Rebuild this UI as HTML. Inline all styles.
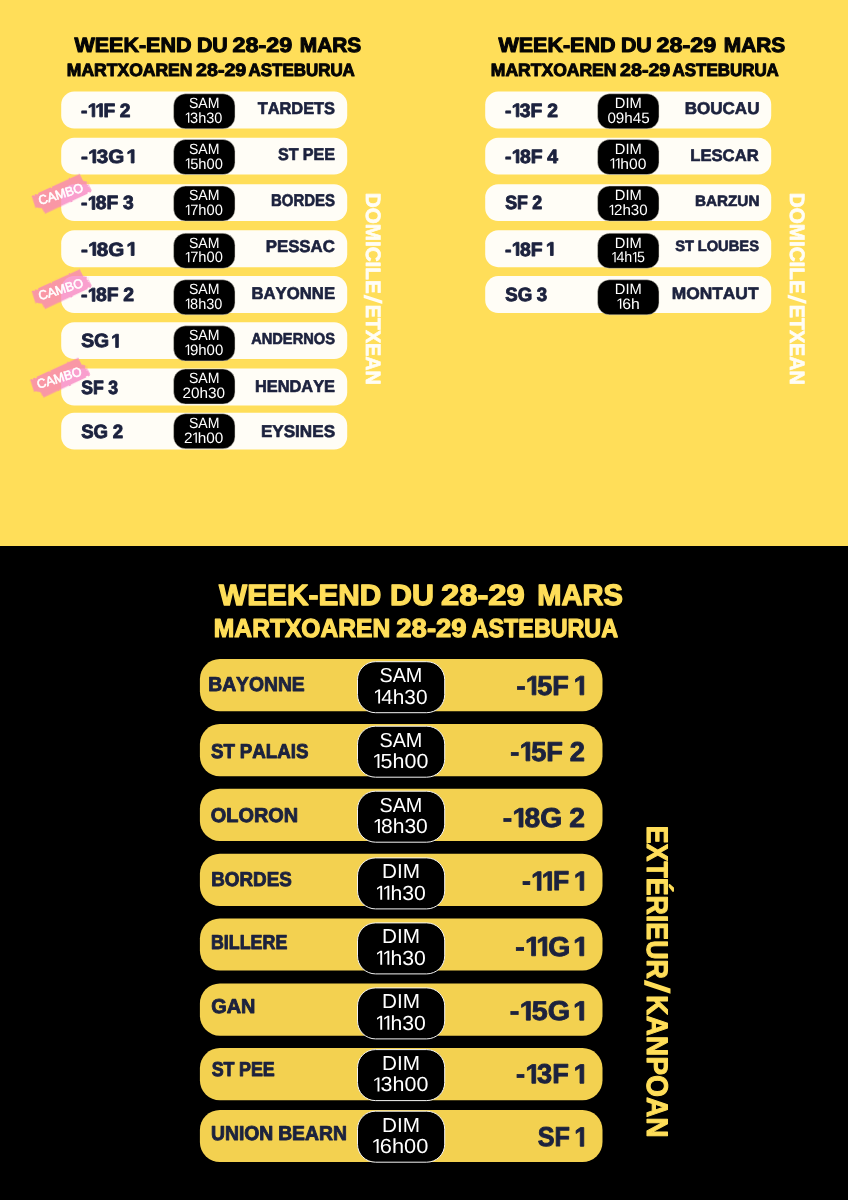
<!DOCTYPE html>
<html><head><meta charset="utf-8"><title>Week-end du 28-29 mars</title>
<style>
html,body{margin:0;padding:0;background:#000;}
svg{display:block;will-change:transform;font-family:"Liberation Sans",sans-serif;}
text{white-space:pre;font-kerning:none;text-rendering:geometricPrecision;}
</style></head><body>
<svg width="848" height="1200" viewBox="0 0 848 1200">
<defs><filter id="rough" x="-10%" y="-20%" width="120%" height="140%"><feTurbulence type="fractalNoise" baseFrequency="0.35" numOctaves="2" seed="3" result="n"/><feDisplacementMap in="SourceGraphic" in2="n" scale="2.6" xChannelSelector="R" yChannelSelector="G"/></filter></defs>
<rect x="0.00" y="0.00" width="848.00" height="546.00" rx="0" fill="#FFDE59"/>
<rect x="0.00" y="546.00" width="848.00" height="654.00" rx="0" fill="#000"/>
<g transform="translate(74.43 52.25) scale(1.0423 1)" font-size="20.64" font-weight="700" fill="#050505" stroke="#050505" stroke-width="1.08" stroke-linejoin="round"><text x="0.00">WEEK-END</text></g>
<g transform="translate(196.92 52.25) scale(1.0342 1)" font-size="20.64" font-weight="700" fill="#050505" stroke="#050505" stroke-width="1.08" stroke-linejoin="round"><text x="0.00">DU</text></g>
<g transform="translate(232.44 52.25) scale(1.1344 1)" font-size="20.64" font-weight="700" fill="#050505" stroke="#050505" stroke-width="1.03" stroke-linejoin="round"><text x="0.00">28-29</text></g>
<g transform="translate(299.75 52.25) scale(1.0122 1)" font-size="20.64" font-weight="700" fill="#050505" stroke="#050505" stroke-width="1.09" stroke-linejoin="round"><text x="0.00">MARS</text></g>
<g transform="translate(66.83 75.90) scale(0.9815 1)" font-size="17.88" font-weight="700" fill="#050505" stroke="#050505" stroke-width="1.01" stroke-linejoin="round"><text x="0.00">MARTXOAREN</text></g>
<g transform="translate(196.02 75.90) scale(1.1003 1)" font-size="17.88" font-weight="700" fill="#050505" stroke="#050505" stroke-width="0.95" stroke-linejoin="round"><text x="0.00">28-29</text></g>
<g transform="translate(248.58 75.90) scale(0.9477 1)" font-size="17.88" font-weight="700" fill="#050505" stroke="#050505" stroke-width="1.03" stroke-linejoin="round"><text x="0.00">ASTEBURUA</text></g>
<rect x="61.20" y="91.60" width="286.00" height="36.90" rx="13" fill="#FFFDF6"/>
<rect x="61.20" y="137.70" width="286.00" height="36.90" rx="13" fill="#FFFDF6"/>
<rect x="61.20" y="184.20" width="286.00" height="36.90" rx="13" fill="#FFFDF6"/>
<rect x="61.20" y="230.25" width="286.00" height="36.90" rx="13" fill="#FFFDF6"/>
<rect x="61.20" y="276.10" width="286.00" height="36.90" rx="13" fill="#FFFDF6"/>
<rect x="61.20" y="322.20" width="286.00" height="36.90" rx="13" fill="#FFFDF6"/>
<rect x="61.20" y="368.60" width="286.00" height="36.90" rx="13" fill="#FFFDF6"/>
<rect x="61.20" y="412.70" width="286.00" height="36.90" rx="13" fill="#FFFDF6"/>
<rect x="173.60" y="93.75" width="61.40" height="35.10" rx="12" fill="#000" stroke="#d8d4c8" stroke-width="0.5"/>
<g transform="translate(81.00 116.85) scale(0.9993 1)" font-size="19.19" font-weight="700" fill="#1C223E" stroke="#1C223E" stroke-width="0.90" stroke-linejoin="round"><text x="0.00">-</text><path d="M11.17 0.00 11.17 -10.96 8.00 -8.98 8.00 -11.05 11.31 -13.20 13.80 -13.20 13.80 0.00Z"/><path d="M18.79 0.00 18.79 -10.96 15.63 -8.98 15.63 -11.05 18.93 -13.20 21.42 -13.20 21.42 0.00Z"/><text x="22.41">F</text><text x="38.88">2</text></g>
<g transform="translate(257.64 114.02) scale(0.9683 1)" font-size="16.93" font-weight="700" fill="#1C223E" stroke="#1C223E" stroke-width="0.66" stroke-linejoin="round"><text x="0.00">TARDETS</text></g>
<g transform="translate(188.96 108.05) scale(0.9492 1)" font-size="14.83" font-weight="400" fill="#fff"><text x="0.00">SAM</text></g>
<g transform="translate(185.23 122.85) scale(0.9685 1)" font-size="14.97" font-weight="400" fill="#fff"><path d="M2.91 0.00 2.91 -9.04 0.58 -7.38 0.58 -8.63 3.02 -10.30 4.23 -10.30 4.23 0.00Z"/><text x="5.04">3h30</text></g>
<rect x="173.60" y="139.50" width="61.40" height="35.10" rx="12" fill="#000" stroke="#d8d4c8" stroke-width="0.5"/>
<g transform="translate(80.95 162.95) scale(1.0735 1)" font-size="19.19" font-weight="700" fill="#1C223E" stroke="#1C223E" stroke-width="0.87" stroke-linejoin="round"><text x="0.00">-</text><path d="M11.17 0.00 11.17 -10.96 8.00 -8.98 8.00 -11.05 11.31 -13.20 13.80 -13.20 13.80 0.00Z"/><text x="14.78">3G</text><path d="M46.84 0.00 46.84 -10.96 43.67 -8.98 43.67 -11.05 46.98 -13.20 49.47 -13.20 49.47 0.00Z"/></g>
<g transform="translate(278.06 160.08) scale(0.9544 1)" font-size="16.93" font-weight="700" fill="#1C223E" stroke="#1C223E" stroke-width="0.67" stroke-linejoin="round"><text x="0.00">ST</text><text x="25.83">PEE</text></g>
<g transform="translate(188.96 153.80) scale(0.9492 1)" font-size="14.83" font-weight="400" fill="#fff"><text x="0.00">SAM</text></g>
<g transform="translate(185.23 168.60) scale(0.9806 1)" font-size="14.97" font-weight="400" fill="#fff"><path d="M2.91 0.00 2.91 -9.04 0.58 -7.38 0.58 -8.63 3.02 -10.30 4.23 -10.30 4.23 0.00Z"/><text x="5.04">5h00</text></g>
<rect x="173.60" y="186.00" width="61.40" height="35.10" rx="12" fill="#000" stroke="#d8d4c8" stroke-width="0.5"/>
<g transform="translate(81.00 209.45) scale(1.0028 1)" font-size="19.19" font-weight="700" fill="#1C223E" stroke="#1C223E" stroke-width="0.90" stroke-linejoin="round"><text x="0.00">-</text><path d="M11.17 0.00 11.17 -10.96 8.00 -8.98 8.00 -11.05 11.31 -13.20 13.80 -13.20 13.80 0.00Z"/><text x="14.78">8F</text><text x="41.93">3</text></g>
<g transform="translate(271.08 206.18) scale(0.8825 1)" font-size="16.93" font-weight="700" fill="#1C223E" stroke="#1C223E" stroke-width="0.69" stroke-linejoin="round"><text x="0.00">BORDES</text></g>
<g transform="translate(188.96 200.30) scale(0.9492 1)" font-size="14.83" font-weight="400" fill="#fff"><text x="0.00">SAM</text></g>
<g transform="translate(185.23 215.10) scale(0.9806 1)" font-size="14.97" font-weight="400" fill="#fff"><path d="M2.91 0.00 2.91 -9.04 0.58 -7.38 0.58 -8.63 3.02 -10.30 4.23 -10.30 4.23 0.00Z"/><text x="5.04">7h00</text></g>
<rect x="173.60" y="233.25" width="61.40" height="35.10" rx="12" fill="#000" stroke="#d8d4c8" stroke-width="0.5"/>
<g transform="translate(80.95 255.50) scale(1.0735 1)" font-size="19.19" font-weight="700" fill="#1C223E" stroke="#1C223E" stroke-width="0.87" stroke-linejoin="round"><text x="0.00">-</text><path d="M11.17 0.00 11.17 -10.96 8.00 -8.98 8.00 -11.05 11.31 -13.20 13.80 -13.20 13.80 0.00Z"/><text x="14.78">8G</text><path d="M46.84 0.00 46.84 -10.96 43.67 -8.98 43.67 -11.05 46.98 -13.20 49.47 -13.20 49.47 0.00Z"/></g>
<g transform="translate(265.70 252.47) scale(0.9936 1)" font-size="16.93" font-weight="700" fill="#1C223E" stroke="#1C223E" stroke-width="0.65" stroke-linejoin="round"><text x="0.00">PESSAC</text></g>
<g transform="translate(188.96 247.55) scale(0.9492 1)" font-size="14.83" font-weight="400" fill="#fff"><text x="0.00">SAM</text></g>
<g transform="translate(185.23 262.35) scale(0.9806 1)" font-size="14.97" font-weight="400" fill="#fff"><path d="M2.91 0.00 2.91 -9.04 0.58 -7.38 0.58 -8.63 3.02 -10.30 4.23 -10.30 4.23 0.00Z"/><text x="5.04">7h00</text></g>
<rect x="173.60" y="279.75" width="61.40" height="35.10" rx="12" fill="#000" stroke="#d8d4c8" stroke-width="0.5"/>
<g transform="translate(80.99 301.35) scale(1.0102 1)" font-size="19.19" font-weight="700" fill="#1C223E" stroke="#1C223E" stroke-width="0.90" stroke-linejoin="round"><text x="0.00">-</text><path d="M11.17 0.00 11.17 -10.96 8.00 -8.98 8.00 -11.05 11.31 -13.20 13.80 -13.20 13.80 0.00Z"/><text x="14.78">8F</text><text x="41.93">2</text></g>
<g transform="translate(251.46 298.98) scale(0.9876 1)" font-size="16.93" font-weight="700" fill="#1C223E" stroke="#1C223E" stroke-width="0.65" stroke-linejoin="round"><text x="0.00">BAYONNE</text></g>
<g transform="translate(188.96 294.05) scale(0.9492 1)" font-size="14.83" font-weight="400" fill="#fff"><text x="0.00">SAM</text></g>
<g transform="translate(185.23 308.85) scale(0.9685 1)" font-size="14.97" font-weight="400" fill="#fff"><path d="M2.91 0.00 2.91 -9.04 0.58 -7.38 0.58 -8.63 3.02 -10.30 4.23 -10.30 4.23 0.00Z"/><text x="5.04">8h30</text></g>
<rect x="173.60" y="325.80" width="61.40" height="35.10" rx="12" fill="#000" stroke="#d8d4c8" stroke-width="0.5"/>
<g transform="translate(81.19 347.45) scale(1.0093 1)" font-size="19.19" font-weight="700" fill="#1C223E" stroke="#1C223E" stroke-width="0.90" stroke-linejoin="round"><text x="0.00">SG</text><path d="M34.18 0.00 34.18 -10.96 31.02 -8.98 31.02 -11.05 34.32 -13.20 36.82 -13.20 36.82 0.00Z"/></g>
<g transform="translate(251.16 344.28) scale(0.9247 1)" font-size="15.84" font-weight="700" fill="#1C223E" stroke="#1C223E" stroke-width="0.68" stroke-linejoin="round"><text x="0.00">ANDERNOS</text></g>
<g transform="translate(188.96 340.10) scale(0.9492 1)" font-size="14.83" font-weight="400" fill="#fff"><text x="0.00">SAM</text></g>
<g transform="translate(184.91 354.90) scale(1.0008 1)" font-size="14.97" font-weight="400" fill="#fff"><path d="M2.91 0.00 2.91 -9.04 0.58 -7.38 0.58 -8.63 3.02 -10.30 4.23 -10.30 4.23 0.00Z"/><text x="5.04">9h00</text></g>
<rect x="173.60" y="369.00" width="61.40" height="35.10" rx="12" fill="#000" stroke="#d8d4c8" stroke-width="0.5"/>
<g transform="translate(81.24 393.85) scale(0.9187 1)" font-size="19.19" font-weight="700" fill="#1C223E" stroke="#1C223E" stroke-width="0.94" stroke-linejoin="round"><text x="0.00">SF</text><text x="29.27">3</text></g>
<g transform="translate(254.93 391.53) scale(0.9679 1)" font-size="16.93" font-weight="700" fill="#1C223E" stroke="#1C223E" stroke-width="0.66" stroke-linejoin="round"><text x="0.00">HENDAYE</text></g>
<g transform="translate(188.96 383.30) scale(0.9492 1)" font-size="14.83" font-weight="400" fill="#fff"><text x="0.00">SAM</text></g>
<g transform="translate(182.48 398.10) scale(1.0238 1)" font-size="14.97" font-weight="400" fill="#fff"><text x="0.00">20h30</text></g>
<rect x="173.60" y="413.70" width="61.40" height="35.10" rx="12" fill="#000" stroke="#d8d4c8" stroke-width="0.5"/>
<g transform="translate(81.21 437.95) scale(0.9683 1)" font-size="19.19" font-weight="700" fill="#1C223E" stroke="#1C223E" stroke-width="0.91" stroke-linejoin="round"><text x="0.00">SG</text><text x="32.48">2</text></g>
<g transform="translate(260.88 437.28) scale(1.0110 1)" font-size="16.93" font-weight="700" fill="#1C223E" stroke="#1C223E" stroke-width="0.65" stroke-linejoin="round"><text x="0.00">EYSINES</text></g>
<g transform="translate(188.96 428.00) scale(0.9492 1)" font-size="14.83" font-weight="400" fill="#fff"><text x="0.00">SAM</text></g>
<g transform="translate(183.98 442.80) scale(1.0256 1)" font-size="14.97" font-weight="400" fill="#fff"><text x="0.00">2</text><path d="M11.24 0.00 11.24 -9.04 8.91 -7.38 8.91 -8.63 11.35 -10.30 12.56 -10.30 12.56 0.00Z"/><text x="13.36">h00</text></g>
<g transform="translate(366.10 0) rotate(90)">
<g transform="translate(192.72 -0.35) scale(0.9944 1)" font-size="20.78" font-weight="700" fill="#FFFDF6" stroke="#FFFDF6" stroke-width="0.70" stroke-linejoin="round"><text x="0.00">DOMICILE</text></g>
<path d="M294.4 2.4H298L304 -16.2H300.4Z" fill="#FFFDF6"/>
<g transform="translate(304.63 -0.35) scale(0.9520 1)" font-size="20.78" font-weight="700" fill="#FFFDF6" stroke="#FFFDF6" stroke-width="0.72" stroke-linejoin="round"><text x="0.00">ETXEAN</text></g>
</g>
<g transform="translate(498.43 52.25) scale(1.0423 1)" font-size="20.64" font-weight="700" fill="#050505" stroke="#050505" stroke-width="1.08" stroke-linejoin="round"><text x="0.00">WEEK-END</text></g>
<g transform="translate(620.92 52.25) scale(1.0342 1)" font-size="20.64" font-weight="700" fill="#050505" stroke="#050505" stroke-width="1.08" stroke-linejoin="round"><text x="0.00">DU</text></g>
<g transform="translate(656.44 52.25) scale(1.1344 1)" font-size="20.64" font-weight="700" fill="#050505" stroke="#050505" stroke-width="1.03" stroke-linejoin="round"><text x="0.00">28-29</text></g>
<g transform="translate(723.75 52.25) scale(1.0122 1)" font-size="20.64" font-weight="700" fill="#050505" stroke="#050505" stroke-width="1.09" stroke-linejoin="round"><text x="0.00">MARS</text></g>
<g transform="translate(490.83 75.90) scale(0.9815 1)" font-size="17.88" font-weight="700" fill="#050505" stroke="#050505" stroke-width="1.01" stroke-linejoin="round"><text x="0.00">MARTXOAREN</text></g>
<g transform="translate(620.02 75.90) scale(1.1003 1)" font-size="17.88" font-weight="700" fill="#050505" stroke="#050505" stroke-width="0.95" stroke-linejoin="round"><text x="0.00">28-29</text></g>
<g transform="translate(672.58 75.90) scale(0.9477 1)" font-size="17.88" font-weight="700" fill="#050505" stroke="#050505" stroke-width="1.03" stroke-linejoin="round"><text x="0.00">ASTEBURUA</text></g>
<rect x="485.20" y="91.60" width="286.00" height="36.90" rx="13" fill="#FFFDF6"/>
<rect x="485.20" y="137.70" width="286.00" height="36.90" rx="13" fill="#FFFDF6"/>
<rect x="485.20" y="184.20" width="286.00" height="36.90" rx="13" fill="#FFFDF6"/>
<rect x="485.20" y="230.25" width="286.00" height="36.90" rx="13" fill="#FFFDF6"/>
<rect x="485.20" y="276.10" width="286.00" height="36.90" rx="13" fill="#FFFDF6"/>
<rect x="597.60" y="93.75" width="61.40" height="35.10" rx="12" fill="#000" stroke="#d8d4c8" stroke-width="0.5"/>
<g transform="translate(505.00 116.85) scale(1.0063 1)" font-size="19.19" font-weight="700" fill="#1C223E" stroke="#1C223E" stroke-width="0.90" stroke-linejoin="round"><text x="0.00">-</text><path d="M11.17 0.00 11.17 -10.96 8.00 -8.98 8.00 -11.05 11.31 -13.20 13.80 -13.20 13.80 0.00Z"/><text x="14.78">3F</text><text x="41.93">2</text></g>
<g transform="translate(684.69 114.17) scale(1.0063 1)" font-size="16.93" font-weight="700" fill="#1C223E" stroke="#1C223E" stroke-width="0.65" stroke-linejoin="round"><text x="0.00">BOUCAU</text></g>
<g transform="translate(614.80 108.05) scale(0.9902 1)" font-size="14.83" font-weight="400" fill="#fff"><text x="0.00">DIM</text></g>
<g transform="translate(607.41 122.85) scale(1.0144 1)" font-size="14.97" font-weight="400" fill="#fff"><text x="0.00">09h45</text></g>
<rect x="597.60" y="139.50" width="61.40" height="35.10" rx="12" fill="#000" stroke="#d8d4c8" stroke-width="0.5"/>
<g transform="translate(504.99 162.95) scale(1.0088 1)" font-size="19.19" font-weight="700" fill="#1C223E" stroke="#1C223E" stroke-width="0.90" stroke-linejoin="round"><text x="0.00">-</text><path d="M11.17 0.00 11.17 -10.96 8.00 -8.98 8.00 -11.05 11.31 -13.20 13.80 -13.20 13.80 0.00Z"/><text x="14.78">8F</text><text x="41.93">4</text></g>
<g transform="translate(690.21 160.68) scale(1.0020 1)" font-size="16.64" font-weight="700" fill="#1C223E" stroke="#1C223E" stroke-width="0.65" stroke-linejoin="round"><text x="0.00">LESCAR</text></g>
<g transform="translate(614.80 153.80) scale(0.9902 1)" font-size="14.83" font-weight="400" fill="#fff"><text x="0.00">DIM</text></g>
<g transform="translate(609.79 168.60) scale(1.0448 1)" font-size="14.97" font-weight="400" fill="#fff"><path d="M2.91 0.00 2.91 -9.04 0.58 -7.38 0.58 -8.63 3.02 -10.30 4.23 -10.30 4.23 0.00Z"/><path d="M7.95 0.00 7.95 -9.04 5.62 -7.38 5.62 -8.63 8.06 -10.30 9.27 -10.30 9.27 0.00Z"/><text x="10.07">h00</text></g>
<rect x="597.60" y="186.00" width="61.40" height="35.10" rx="12" fill="#000" stroke="#d8d4c8" stroke-width="0.5"/>
<g transform="translate(505.24 209.45) scale(0.9270 1)" font-size="19.19" font-weight="700" fill="#1C223E" stroke="#1C223E" stroke-width="0.93" stroke-linejoin="round"><text x="0.00">SF</text><text x="29.27">2</text></g>
<g transform="translate(695.00 205.58) scale(1.0148 1)" font-size="15.04" font-weight="700" fill="#1C223E" stroke="#1C223E" stroke-width="0.65" stroke-linejoin="round"><text x="0.00">BARZUN</text></g>
<g transform="translate(614.80 200.30) scale(0.9902 1)" font-size="14.83" font-weight="400" fill="#fff"><text x="0.00">DIM</text></g>
<g transform="translate(608.91 215.10) scale(1.0088 1)" font-size="14.97" font-weight="400" fill="#fff"><path d="M2.91 0.00 2.91 -9.04 0.58 -7.38 0.58 -8.63 3.02 -10.30 4.23 -10.30 4.23 0.00Z"/><text x="5.04">2h30</text></g>
<rect x="597.60" y="233.25" width="61.40" height="35.10" rx="12" fill="#000" stroke="#d8d4c8" stroke-width="0.5"/>
<g transform="translate(504.99 255.50) scale(1.0094 1)" font-size="19.19" font-weight="700" fill="#1C223E" stroke="#1C223E" stroke-width="0.90" stroke-linejoin="round"><text x="0.00">-</text><path d="M11.17 0.00 11.17 -10.96 8.00 -8.98 8.00 -11.05 11.31 -13.20 13.80 -13.20 13.80 0.00Z"/><text x="14.78">8F</text><path d="M45.07 0.00 45.07 -10.96 41.91 -8.98 41.91 -11.05 45.21 -13.20 47.71 -13.20 47.71 0.00Z"/></g>
<g transform="translate(675.30 250.97) scale(0.9773 1)" font-size="15.04" font-weight="700" fill="#1C223E" stroke="#1C223E" stroke-width="0.66" stroke-linejoin="round"><text x="0.00">ST</text><text x="22.95">LOUBES</text></g>
<g transform="translate(614.80 247.55) scale(0.9902 1)" font-size="14.83" font-weight="400" fill="#fff"><text x="0.00">DIM</text></g>
<g transform="translate(611.64 262.35) scale(0.9516 1)" font-size="14.97" font-weight="400" fill="#fff"><path d="M2.91 0.00 2.91 -9.04 0.58 -7.38 0.58 -8.63 3.02 -10.30 4.23 -10.30 4.23 0.00Z"/><text x="5.04">4h</text><path d="M24.60 0.00 24.60 -9.04 22.27 -7.38 22.27 -8.63 24.71 -10.30 25.92 -10.30 25.92 0.00Z"/><text x="26.73">5</text></g>
<rect x="597.60" y="279.75" width="61.40" height="35.10" rx="12" fill="#000" stroke="#d8d4c8" stroke-width="0.5"/>
<g transform="translate(505.21 301.35) scale(0.9738 1)" font-size="19.19" font-weight="700" fill="#1C223E" stroke="#1C223E" stroke-width="0.91" stroke-linejoin="round"><text x="0.00">SG</text><text x="32.48">3</text></g>
<g transform="translate(671.66 299.08) scale(1.0451 1)" font-size="16.64" font-weight="700" fill="#1C223E" stroke="#1C223E" stroke-width="0.64" stroke-linejoin="round"><text x="0.00">MONTAUT</text></g>
<g transform="translate(614.80 294.05) scale(0.9902 1)" font-size="14.83" font-weight="400" fill="#fff"><text x="0.00">DIM</text></g>
<g transform="translate(616.88 308.85) scale(1.0531 1)" font-size="14.97" font-weight="400" fill="#fff"><path d="M2.91 0.00 2.91 -9.04 0.58 -7.38 0.58 -8.63 3.02 -10.30 4.23 -10.30 4.23 0.00Z"/><text x="5.04">6h</text></g>
<g transform="translate(790.10 0) rotate(90)">
<g transform="translate(192.72 -0.35) scale(0.9944 1)" font-size="20.78" font-weight="700" fill="#FFFDF6" stroke="#FFFDF6" stroke-width="0.70" stroke-linejoin="round"><text x="0.00">DOMICILE</text></g>
<path d="M294.4 2.4H298L304 -16.2H300.4Z" fill="#FFFDF6"/>
<g transform="translate(304.63 -0.35) scale(0.9520 1)" font-size="20.78" font-weight="700" fill="#FFFDF6" stroke="#FFFDF6" stroke-width="0.72" stroke-linejoin="round"><text x="0.00">ETXEAN</text></g>
</g>
<g transform="translate(31.70 195.90) rotate(-24.3)">
<path d="M0,0 L52.6,-0.3 L53.2,7.5 L56,9.5 L57,19.5 L54,21 L4.7,21.8 L4.2,15.5 L-1.5,12 Z" fill="#F77FC0" fill-opacity="0.74" filter="url(#rough)"/>
</g>
<g transform="translate(40.50 205.20) rotate(-17.3)">
<g transform="translate(-0.36 -0.28) scale(0.9883 1)" font-size="12.72" font-weight="400" fill="#fff" stroke="#fff" stroke-width="0.55" stroke-linejoin="round"><text x="0.00">CAMBO</text></g>
</g>
<g transform="translate(31.70 291.20) rotate(-24.3)">
<path d="M0,0 L52.6,-0.3 L53.2,7.5 L56,9.5 L57,19.5 L54,21 L4.7,21.8 L4.2,15.5 L-1.5,12 Z" fill="#F77FC0" fill-opacity="0.74" filter="url(#rough)"/>
</g>
<g transform="translate(40.50 300.50) rotate(-17.3)">
<g transform="translate(-0.36 -0.28) scale(0.9883 1)" font-size="12.72" font-weight="400" fill="#fff" stroke="#fff" stroke-width="0.55" stroke-linejoin="round"><text x="0.00">CAMBO</text></g>
</g>
<g transform="translate(30.20 379.70) rotate(-24.3)">
<path d="M0,0 L52.6,-0.3 L53.2,7.5 L56,9.5 L57,19.5 L54,21 L4.7,21.8 L4.2,15.5 L-1.5,12 Z" fill="#F77FC0" fill-opacity="0.74" filter="url(#rough)"/>
</g>
<g transform="translate(39.00 389.00) rotate(-17.3)">
<g transform="translate(-0.36 -0.28) scale(0.9883 1)" font-size="12.72" font-weight="400" fill="#fff" stroke="#fff" stroke-width="0.55" stroke-linejoin="round"><text x="0.00">CAMBO</text></g>
</g>
<g transform="translate(219.12 604.55) scale(1.0146 1)" font-size="29.36" font-weight="700" fill="#FFDE59" stroke="#FFDE59" stroke-width="1.29" stroke-linejoin="round"><text x="0.00">WEEK-END</text></g>
<g transform="translate(390.12 604.55) scale(1.0349 1)" font-size="29.36" font-weight="700" fill="#FFDE59" stroke="#FFDE59" stroke-width="1.28" stroke-linejoin="round"><text x="0.00">DU</text></g>
<g transform="translate(440.91 604.55) scale(1.1167 1)" font-size="29.36" font-weight="700" fill="#FFDE59" stroke="#FFDE59" stroke-width="1.23" stroke-linejoin="round"><text x="0.00">28-29</text></g>
<g transform="translate(537.21 604.55) scale(0.9900 1)" font-size="29.36" font-weight="700" fill="#FFDE59" stroke="#FFDE59" stroke-width="1.31" stroke-linejoin="round"><text x="0.00">MARS</text></g>
<g transform="translate(213.85 637.40) scale(0.9520 1)" font-size="25.87" font-weight="700" fill="#FFDE59" stroke="#FFDE59" stroke-width="1.23" stroke-linejoin="round"><text x="0.00">MARTXOAREN</text></g>
<g transform="translate(396.35 637.40) scale(1.0620 1)" font-size="25.87" font-weight="700" fill="#FFDE59" stroke="#FFDE59" stroke-width="1.16" stroke-linejoin="round"><text x="0.00">28-29</text></g>
<g transform="translate(471.72 637.40) scale(0.9013 1)" font-size="25.87" font-weight="700" fill="#FFDE59" stroke="#FFDE59" stroke-width="1.26" stroke-linejoin="round"><text x="0.00">ASTEBURUA</text></g>
<rect x="199.90" y="659.10" width="402.60" height="52.20" rx="20" fill="#F3D150"/>
<rect x="199.90" y="724.10" width="402.60" height="52.20" rx="20" fill="#F3D150"/>
<rect x="199.90" y="788.75" width="402.60" height="52.20" rx="20" fill="#F3D150"/>
<rect x="199.90" y="853.80" width="402.60" height="52.20" rx="20" fill="#F3D150"/>
<rect x="199.90" y="918.40" width="402.60" height="52.20" rx="20" fill="#F3D150"/>
<rect x="199.90" y="983.50" width="402.60" height="52.20" rx="20" fill="#F3D150"/>
<rect x="199.90" y="1048.10" width="402.60" height="52.20" rx="20" fill="#F3D150"/>
<rect x="199.90" y="1109.90" width="402.60" height="52.20" rx="20" fill="#F3D150"/>
<rect x="357.50" y="661.70" width="87.20" height="51.00" rx="18" fill="#000" stroke="#f4f4f4" stroke-width="1"/>
<g transform="translate(208.26 690.95) scale(0.9556 1)" font-size="20.20" font-weight="700" fill="#1C223E" stroke="#1C223E" stroke-width="0.92" stroke-linejoin="round"><text x="0.00">BAYONNE</text></g>
<g transform="translate(379.40 682.20) scale(0.9829 1)" font-size="20.20" font-weight="400" fill="#fff"><text x="0.00">SAM</text></g>
<g transform="translate(374.19 703.50) scale(1.0233 1)" font-size="20.35" font-weight="400" fill="#fff"><path d="M3.95 0.00 3.95 -12.29 0.79 -10.04 0.79 -11.72 4.10 -14.00 5.75 -14.00 5.75 0.00Z"/><text x="6.85">4h30</text></g>
<g transform="translate(516.39 694.85) scale(0.9967 1)" font-size="27.18" font-weight="700" fill="#1C223E" stroke="#1C223E" stroke-width="0.90" stroke-linejoin="round"><text x="0.00">-</text><path d="M15.82 0.00 15.82 -15.53 11.33 -12.73 11.33 -15.66 16.02 -18.70 19.55 -18.70 19.55 0.00Z"/><text x="20.94">5F</text><path d="M63.85 0.00 63.85 -15.53 59.37 -12.73 59.37 -15.66 64.05 -18.70 67.58 -18.70 67.58 0.00Z"/></g>
<rect x="357.50" y="726.20" width="87.20" height="51.00" rx="18" fill="#000" stroke="#f4f4f4" stroke-width="1"/>
<g transform="translate(211.11 758.15) scale(0.9282 1)" font-size="20.20" font-weight="700" fill="#1C223E" stroke="#1C223E" stroke-width="0.93" stroke-linejoin="round"><text x="0.00">ST</text><text x="30.82">PALAIS</text></g>
<g transform="translate(379.40 746.70) scale(0.9829 1)" font-size="20.20" font-weight="400" fill="#fff"><text x="0.00">SAM</text></g>
<g transform="translate(373.36 768.00) scale(1.0549 1)" font-size="20.35" font-weight="400" fill="#fff"><path d="M3.95 0.00 3.95 -12.29 0.79 -10.04 0.79 -11.72 4.10 -14.00 5.75 -14.00 5.75 0.00Z"/><text x="6.85">5h00</text></g>
<g transform="translate(510.19 760.85) scale(1.0019 1)" font-size="27.18" font-weight="700" fill="#1C223E" stroke="#1C223E" stroke-width="0.90" stroke-linejoin="round"><text x="0.00">-</text><path d="M15.82 0.00 15.82 -15.53 11.33 -12.73 11.33 -15.66 16.02 -18.70 19.55 -18.70 19.55 0.00Z"/><text x="20.94">5F</text><text x="59.40">2</text></g>
<rect x="357.50" y="791.20" width="87.20" height="51.00" rx="18" fill="#000" stroke="#f4f4f4" stroke-width="1"/>
<g transform="translate(210.83 822.15) scale(0.9852 1)" font-size="20.20" font-weight="700" fill="#1C223E" stroke="#1C223E" stroke-width="0.91" stroke-linejoin="round"><text x="0.00">OLORON</text></g>
<g transform="translate(379.40 811.70) scale(0.9829 1)" font-size="20.20" font-weight="400" fill="#fff"><text x="0.00">SAM</text></g>
<g transform="translate(373.88 833.00) scale(1.0351 1)" font-size="20.35" font-weight="400" fill="#fff"><path d="M3.95 0.00 3.95 -12.29 0.79 -10.04 0.79 -11.72 4.10 -14.00 5.75 -14.00 5.75 0.00Z"/><text x="6.85">8h30</text></g>
<g transform="translate(502.65 827.05) scale(1.0403 1)" font-size="27.18" font-weight="700" fill="#1C223E" stroke="#1C223E" stroke-width="0.88" stroke-linejoin="round"><text x="0.00">-</text><path d="M15.82 0.00 15.82 -15.53 11.33 -12.73 11.33 -15.66 16.02 -18.70 19.55 -18.70 19.55 0.00Z"/><text x="20.94">8G</text><text x="63.94">2</text></g>
<rect x="357.50" y="857.90" width="87.20" height="51.00" rx="18" fill="#000" stroke="#f4f4f4" stroke-width="1"/>
<g transform="translate(211.29 885.65) scale(0.9312 1)" font-size="20.20" font-weight="700" fill="#1C223E" stroke="#1C223E" stroke-width="0.93" stroke-linejoin="round"><text x="0.00">BORDES</text></g>
<g transform="translate(382.00 878.40) scale(1.0261 1)" font-size="20.20" font-weight="400" fill="#fff"><text x="0.00">DIM</text></g>
<g transform="translate(376.17 899.70) scale(1.0423 1)" font-size="20.35" font-weight="400" fill="#fff"><path d="M3.95 0.00 3.95 -12.29 0.79 -10.04 0.79 -11.72 4.10 -14.00 5.75 -14.00 5.75 0.00Z"/><path d="M10.80 0.00 10.80 -12.29 7.64 -10.04 7.64 -11.72 10.95 -14.00 12.60 -14.00 12.60 0.00Z"/><text x="13.69">h30</text></g>
<g transform="translate(521.91 890.35) scale(0.9774 1)" font-size="27.18" font-weight="700" fill="#1C223E" stroke="#1C223E" stroke-width="0.91" stroke-linejoin="round"><text x="0.00">-</text><path d="M15.82 0.00 15.82 -15.53 11.33 -12.73 11.33 -15.66 16.02 -18.70 19.55 -18.70 19.55 0.00Z"/><path d="M26.62 0.00 26.62 -15.53 22.14 -12.73 22.14 -15.66 26.82 -18.70 30.35 -18.70 30.35 0.00Z"/><text x="31.74">F</text><path d="M59.54 0.00 59.54 -15.53 55.05 -12.73 55.05 -15.66 59.74 -18.70 63.27 -18.70 63.27 0.00Z"/></g>
<rect x="357.50" y="922.90" width="87.20" height="51.00" rx="18" fill="#000" stroke="#f4f4f4" stroke-width="1"/>
<g transform="translate(210.96 948.75) scale(0.8839 1)" font-size="20.20" font-weight="700" fill="#1C223E" stroke="#1C223E" stroke-width="0.96" stroke-linejoin="round"><text x="0.00">BILLERE</text></g>
<g transform="translate(382.00 943.40) scale(1.0261 1)" font-size="20.20" font-weight="400" fill="#fff"><text x="0.00">DIM</text></g>
<g transform="translate(376.17 964.70) scale(1.0423 1)" font-size="20.35" font-weight="400" fill="#fff"><path d="M3.95 0.00 3.95 -12.29 0.79 -10.04 0.79 -11.72 4.10 -14.00 5.75 -14.00 5.75 0.00Z"/><path d="M10.80 0.00 10.80 -12.29 7.64 -10.04 7.64 -11.72 10.95 -14.00 12.60 -14.00 12.60 0.00Z"/><text x="13.69">h30</text></g>
<g transform="translate(515.14 955.75) scale(1.0431 1)" font-size="27.18" font-weight="700" fill="#1C223E" stroke="#1C223E" stroke-width="0.88" stroke-linejoin="round"><text x="0.00">-</text><path d="M15.82 0.00 15.82 -15.53 11.33 -12.73 11.33 -15.66 16.02 -18.70 19.55 -18.70 19.55 0.00Z"/><path d="M26.62 0.00 26.62 -15.53 22.14 -12.73 22.14 -15.66 26.82 -18.70 30.35 -18.70 30.35 0.00Z"/><text x="31.74">G</text><path d="M62.04 0.00 62.04 -15.53 57.56 -12.73 57.56 -15.66 62.24 -18.70 65.77 -18.70 65.77 0.00Z"/></g>
<rect x="357.50" y="987.90" width="87.20" height="51.00" rx="18" fill="#000" stroke="#f4f4f4" stroke-width="1"/>
<g transform="translate(211.34 1012.50) scale(0.9835 1)" font-size="20.20" font-weight="700" fill="#1C223E" stroke="#1C223E" stroke-width="0.91" stroke-linejoin="round"><text x="0.00">GAN</text></g>
<g transform="translate(382.00 1008.40) scale(1.0261 1)" font-size="20.20" font-weight="400" fill="#fff"><text x="0.00">DIM</text></g>
<g transform="translate(376.17 1029.70) scale(1.0423 1)" font-size="20.35" font-weight="400" fill="#fff"><path d="M3.95 0.00 3.95 -12.29 0.79 -10.04 0.79 -11.72 4.10 -14.00 5.75 -14.00 5.75 0.00Z"/><path d="M10.80 0.00 10.80 -12.29 7.64 -10.04 7.64 -11.72 10.95 -14.00 12.60 -14.00 12.60 0.00Z"/><text x="13.69">h30</text></g>
<g transform="translate(509.63 1020.15) scale(1.0576 1)" font-size="27.18" font-weight="700" fill="#1C223E" stroke="#1C223E" stroke-width="0.87" stroke-linejoin="round"><text x="0.00">-</text><path d="M15.82 0.00 15.82 -15.53 11.33 -12.73 11.33 -15.66 16.02 -18.70 19.55 -18.70 19.55 0.00Z"/><text x="20.94">5G</text><path d="M66.35 0.00 66.35 -15.53 61.87 -12.73 61.87 -15.66 66.55 -18.70 70.08 -18.70 70.08 0.00Z"/></g>
<rect x="357.50" y="1049.60" width="87.20" height="51.00" rx="18" fill="#000" stroke="#f4f4f4" stroke-width="1"/>
<g transform="translate(211.63 1075.55) scale(0.8872 1)" font-size="20.20" font-weight="700" fill="#1C223E" stroke="#1C223E" stroke-width="0.95" stroke-linejoin="round"><text x="0.00">ST</text><text x="30.82">PEE</text></g>
<g transform="translate(382.00 1070.10) scale(1.0261 1)" font-size="20.20" font-weight="400" fill="#fff"><text x="0.00">DIM</text></g>
<g transform="translate(373.36 1091.40) scale(1.0549 1)" font-size="20.35" font-weight="400" fill="#fff"><path d="M3.95 0.00 3.95 -12.29 0.79 -10.04 0.79 -11.72 4.10 -14.00 5.75 -14.00 5.75 0.00Z"/><text x="6.85">3h00</text></g>
<g transform="translate(516.09 1083.25) scale(1.0012 1)" font-size="27.18" font-weight="700" fill="#1C223E" stroke="#1C223E" stroke-width="0.90" stroke-linejoin="round"><text x="0.00">-</text><path d="M15.82 0.00 15.82 -15.53 11.33 -12.73 11.33 -15.66 16.02 -18.70 19.55 -18.70 19.55 0.00Z"/><text x="20.94">3F</text><path d="M63.85 0.00 63.85 -15.53 59.37 -12.73 59.37 -15.66 64.05 -18.70 67.58 -18.70 67.58 0.00Z"/></g>
<rect x="357.50" y="1111.20" width="87.20" height="51.00" rx="18" fill="#000" stroke="#f4f4f4" stroke-width="1"/>
<g transform="translate(210.99 1139.55) scale(0.9579 1)" font-size="20.20" font-weight="700" fill="#1C223E" stroke="#1C223E" stroke-width="0.92" stroke-linejoin="round"><text x="0.00">UNION</text><text x="70.11">BEARN</text></g>
<g transform="translate(382.00 1131.70) scale(1.0261 1)" font-size="20.20" font-weight="400" fill="#fff"><text x="0.00">DIM</text></g>
<g transform="translate(372.45 1153.00) scale(1.0728 1)" font-size="20.35" font-weight="400" fill="#fff"><path d="M3.95 0.00 3.95 -12.29 0.79 -10.04 0.79 -11.72 4.10 -14.00 5.75 -14.00 5.75 0.00Z"/><text x="6.85">6h00</text></g>
<g transform="translate(537.72 1146.25) scale(0.9269 1)" font-size="27.18" font-weight="700" fill="#1C223E" stroke="#1C223E" stroke-width="0.93" stroke-linejoin="round"><text x="0.00">SF</text><path d="M45.93 0.00 45.93 -15.53 41.44 -12.73 41.44 -15.66 46.12 -18.70 49.65 -18.70 49.65 0.00Z"/></g>
<g transform="translate(646.4 0) rotate(90)">
<g transform="translate(825.71 -0.50) scale(0.8980 1)" font-size="29.80" font-weight="700" fill="#FFDE59" stroke="#FFDE59" stroke-width="1.05" stroke-linejoin="round"><text x="0.00">EXTÉRIEUR</text></g>
<path d="M979.8 2.2H984.9L993.7 -24.1H988.6Z" fill="#FFDE59"/>
<g transform="translate(995.11 -0.50) scale(0.9459 1)" font-size="29.80" font-weight="700" fill="#FFDE59" stroke="#FFDE59" stroke-width="1.03" stroke-linejoin="round"><text x="0.00">KANPOAN</text></g>
</g>
</svg>
</body></html>
